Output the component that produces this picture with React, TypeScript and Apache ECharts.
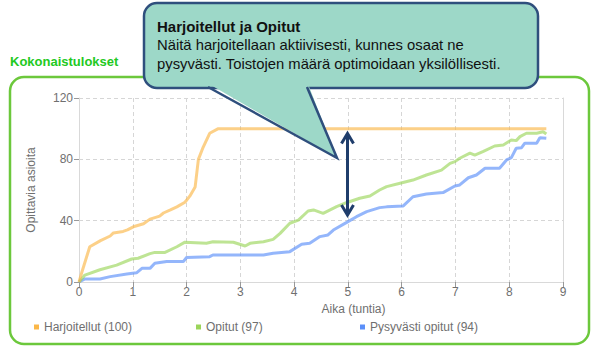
import React, { useEffect, useRef } from "react";
import * as echarts from "echarts";

const seriesNames = ["Harjoitellut (100)", "Opitut (97)", "Pysyvästi opitut (94)"];
const xTicks = [0, 9, 1];
const yTicks = [0, 120, 40];

const harjoitellut: number[][] = [
  [0, 0], [0.05, 6], [0.2, 23], [0.4, 27], [0.58, 30], [0.64, 32], [0.82, 33], [0.9, 34],
  [1.01, 36], [1.2, 38], [1.32, 41], [1.5, 43], [1.57, 45], [1.7, 47], [1.82, 49], [1.97, 52],
  [2.06, 56], [2.16, 62], [2.22, 80], [2.31, 88], [2.43, 97], [2.59, 100], [8.69, 100],
];

const opitut: number[][] = [
  [0, 0], [0.11, 4.5], [0.39, 8], [0.7, 11], [0.98, 15], [1.1, 15.5], [1.32, 18.5], [1.41, 19.3],
  [1.6, 19.3], [1.82, 23], [1.97, 26], [2.37, 25.3], [2.49, 26.3], [2.87, 25.9], [3.09, 23.5],
  [3.18, 25.2], [3.43, 26.3], [3.61, 27.8], [3.74, 31.7], [3.92, 38.3], [4.08, 40.4], [4.26, 46.3],
  [4.36, 47], [4.54, 44.8], [4.79, 49.1], [4.97, 51.7], [5.22, 54.6], [5.41, 56.1], [5.59, 60],
  [5.72, 62.2], [5.97, 64.4], [6.21, 66.5], [6.46, 69.8], [6.74, 73], [6.9, 77.4], [6.99, 78.5],
  [7.08, 80.7], [7.27, 84], [7.36, 82.8], [7.51, 85], [7.73, 88.7], [7.89, 89.4], [8.04, 92.6],
  [8.13, 92.2], [8.2, 94.8], [8.32, 97], [8.51, 97], [8.63, 98], [8.69, 96.5],
];

const pysyvasti: number[][] = [
  [0, 0], [0.11, 2], [0.39, 2], [0.58, 3.5], [0.89, 5.2], [1.07, 6], [1.17, 8.9], [1.32, 8.9],
  [1.41, 12.2], [1.63, 13.3], [1.94, 13.3], [2.0, 16], [2.43, 16.5], [2.49, 17.6], [3.43, 17.6],
  [3.61, 18.7], [3.92, 19.8], [4.14, 24.6], [4.29, 25.2], [4.48, 29.6], [4.63, 30.7], [4.73, 33.9],
  [4.97, 38.7], [5.16, 42.6], [5.35, 45.9], [5.59, 48.5], [5.72, 49], [6.03, 49.6], [6.21, 55.6],
  [6.46, 57.4], [6.77, 58.3], [6.99, 62.6], [7.08, 63.3], [7.24, 68], [7.39, 69.8], [7.55, 74.2],
  [7.82, 74.2], [7.95, 79.6], [8.04, 81.1], [8.13, 87.2], [8.23, 87.6], [8.29, 90.5], [8.51, 90.5],
  [8.57, 94.1], [8.69, 93.7],
];

const lineColors = ["#fbb748", "#9bd55a", "#5b8ff9"];

const FONT = "Liberation Sans";
const GRAY = "#6f6f6f";

export default function App() {
  const ref = useRef<HTMLDivElement>(null);
  useEffect(() => {
    if (!ref.current) return;
    const chart = echarts.init(ref.current, null, { renderer: "svg" });
    const datasets = [harjoitellut, opitut, pysyvasti];
    const legendLefts = [29, 191, 355];
    const option: any = {
      animation: false,
      backgroundColor: "#fff",
      textStyle: { fontFamily: FONT },
      grid: { left: 79, right: 37, top: 98, bottom: 69 },
      legend: seriesNames.map((n, i) => ({
        data: [n],
        left: legendLefts[i],
        top: 316,
        icon: "rect",
        itemWidth: 5,
        itemHeight: 5,
        itemGap: 6,
        textStyle: { color: GRAY, fontSize: 12, fontFamily: FONT },
      })),
      xAxis: {
        type: "value",
        min: xTicks[0],
        max: xTicks[1],
        interval: xTicks[2],
        name: "Aika (tuntia)",
        nameLocation: "middle",
        nameGap: 20,
        nameTextStyle: { color: GRAY, fontSize: 12, padding: [0, 0, 0, 65] },
        axisLine: { show: true, lineStyle: { color: "#d9d9d9" } },
        axisTick: { show: true, length: 5, lineStyle: { color: "#999" } },
        axisLabel: { color: GRAY, fontSize: 12, margin: 4 },
        splitLine: { show: true, lineStyle: { color: "#d6d6d6", type: [4, 3] } },
      },
      yAxis: [
        {
          type: "value",
          min: yTicks[0],
          max: yTicks[1],
          interval: yTicks[2],
          name: "Opittavia asioita",
          nameLocation: "middle",
          nameGap: 42,
          nameTextStyle: { color: GRAY, fontSize: 12 },
          axisLine: { show: true, lineStyle: { color: "#d9d9d9" } },
          axisTick: { show: true, length: 5, lineStyle: { color: "#999" } },
          axisLabel: { color: GRAY, fontSize: 12, margin: 6 },
          splitLine: { show: true, lineStyle: { color: "#d6d6d6", type: [4, 3] } },
        },
        {
          type: "value",
          min: yTicks[0],
          max: yTicks[1],
          interval: yTicks[2],
          position: "right",
          axisLine: { show: true, lineStyle: { color: "#d9d9d9" } },
          axisTick: { show: false },
          axisLabel: { show: false },
          splitLine: { show: false },
        },
      ],
      series: datasets.map((d, i) => ({
        name: seriesNames[i],
        type: "line",
        data: d,
        showSymbol: false,
        symbol: "none",
        color: lineColors[i],
        lineStyle: { width: 3, opacity: 0.65, color: lineColors[i] },
        z: 3 - i,
      })),
      graphic: [
        {
          type: "rect",
          shape: { x: 10, y: 77, width: 579, height: 267, r: 14 },
          style: { fill: "none", stroke: "#6cc83c", lineWidth: 2.5 },
          z: 0,
          silent: true,
        },
        {
          type: "text",
          x: 10,
          y: 61,
          style: {
            text: "Kokonaistulokset",
            fill: "#22c922",
            font: `bold 13px "${FONT}"`,
            textVerticalAlign: "middle",
          },
        },
        {
          type: "rect",
          shape: { x: 144, y: 3, width: 394, height: 85, r: 13 },
          style: { fill: "#9dd8c8", stroke: "#2f4f7d", lineWidth: 2.5 },
          z: 100,
        },
        {
          type: "polygon",
          shape: { points: [[209, 84], [337, 158], [308, 84]] },
          style: { fill: "#9dd8c8", stroke: "none" },
          z: 101,
        },
        {
          type: "polyline",
          shape: { points: [[208, 87], [337, 158], [307, 87]] },
          style: { stroke: "#2f4f7d", lineWidth: 2.5, fill: "none", lineJoin: "miter" },
          z: 102,
        },
        {
          type: "text",
          x: 157,
          y: 26.5,
          z: 103,
          style: {
            text: "Harjoitellut ja Opitut",
            fill: "#111",
            font: `bold 15px "${FONT}"`,
            textVerticalAlign: "middle",
          },
        },
        {
          type: "text",
          x: 157,
          y: 45,
          z: 103,
          style: {
            text: "Näitä harjoitellaan aktiivisesti, kunnes osaat ne",
            fill: "#111",
            font: `14.8px "${FONT}"`,
            textVerticalAlign: "middle",
          },
        },
        {
          type: "text",
          x: 157,
          y: 63.5,
          z: 103,
          style: {
            text: "pysyvästi. Toistojen määrä optimoidaan yksilöllisesti.",
            fill: "#111",
            font: `14.8px "${FONT}"`,
            textVerticalAlign: "middle",
          },
        },
        {
          type: "line",
          shape: { x1: 347.5, y1: 134, x2: 347.5, y2: 214 },
          style: { stroke: "#1f3d6b", lineWidth: 3 },
          z: 104,
        },
        {
          type: "polyline",
          shape: { points: [[341.5, 143.5], [347.5, 133.5], [353.5, 143.5]] },
          style: { stroke: "#1f3d6b", lineWidth: 3, fill: "none" },
          z: 104,
        },
        {
          type: "polyline",
          shape: { points: [[341.5, 205], [347.5, 215], [353.5, 205]] },
          style: { stroke: "#1f3d6b", lineWidth: 3, fill: "none" },
          z: 104,
        },
      ],
    };
    chart.setOption(option);
    return () => chart.dispose();
  }, []);
  return (
    <div
      ref={ref}
      style={{ position: "fixed", left: 0, top: 0, width: 600, height: 351, background: "#fff" }}
    />
  );
}
